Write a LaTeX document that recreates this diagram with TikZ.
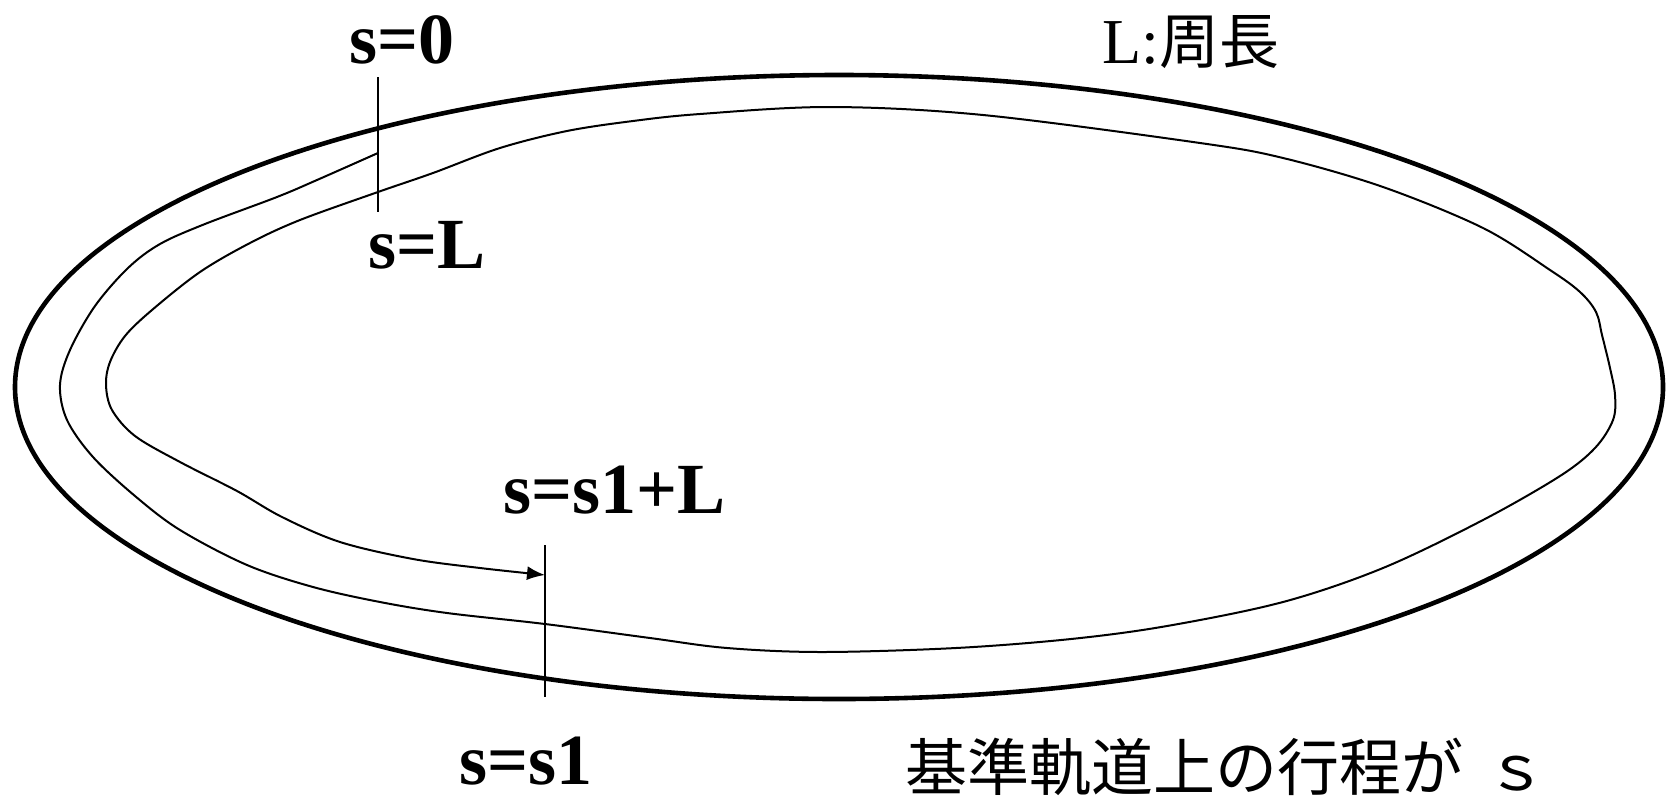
\documentclass[tikz,border=0pt]{standalone}
\usepackage{fontspec}
\setmainfont{Liberation Serif}
\newfontfamily\jp{Noto Sans CJK JP}
\usetikzlibrary{arrows.meta}
\begin{document}
\begin{tikzpicture}[x=0.5pt,y=-0.5pt,
  outer/.style={line width=2.3pt},
  orbit/.style={line width=1pt},
  marker/.style={line width=1pt},
  slabel/.style={anchor=base west,inner sep=0pt,font=\fontsize{36}{36}\selectfont\bfseries},
  jlabel/.style={anchor=base west,inner sep=0pt}]
\useasboundingbox (0,0) rectangle (1673,803);
% outer boundary
\draw[outer] (839,387) ellipse [x radius=824, y radius=-312];
% named points
\coordinate (start) at (378,153);
\coordinate (sL) at (378,192);
\coordinate (tip) at (545,575);
% orbit (spiral)
\draw[orbit,-{Latex[length=9pt,width=7pt]}] plot[smooth,tension=0.55] coordinates {
 (378,153) (317,180) (277,197) (205,224) (160,244) (128,268) (95,306) (70,350) (60,385)
 (67,420) (93,457) (135,496) (180,530) (247,565) (313,587) (380,602) (447,613) (545,624)
 (650,638) (727,648) (822,652) (956,648) (1071,639) (1167,626) (1283,602) (1383,568)
 (1483,520) (1560,476) (1595,448) (1613,420) (1615,395) (1610,368) (1602,335) (1596,312)
 (1580,292) (1550,270) (1483,228) (1383,187) (1283,158) (1200,143) (983,115) (830,107)
 (700,114) (633,121) (567,131) (500,148) (433,173) (378,192) (300,220) (250,243) (200,272)
 (152,310) (125,336) (110,362) (106,385) (112,410) (135,436) (180,462) (237,491) (282,517)
 (340,542) (413,559) (480,568) (545,575)};
% markers
\draw[marker] (378,77) -- (378,212);
\draw[marker] (545,545) -- (545,697);
% labels
\node[slabel] (l0) at (349,63) {s=0};
\node[slabel] (lL) at (368,268) {s=L};
\node[slabel] (ls1L) at (503,513) {s=s1+L};
\node[slabel] (ls1) at (459,784) {s=s1};
\node[jlabel] (per) at (1102,63) {\fontsize{32}{32}\selectfont L:{\jp\fontsize{30}{30}\selectfont 周長}};
\node[jlabel] (desc) at (905,790) {\jp\fontsize{31}{31}\selectfont 基準軌道上の行程が\hspace{0.35em}ｓ};
\end{tikzpicture}
\end{document}
